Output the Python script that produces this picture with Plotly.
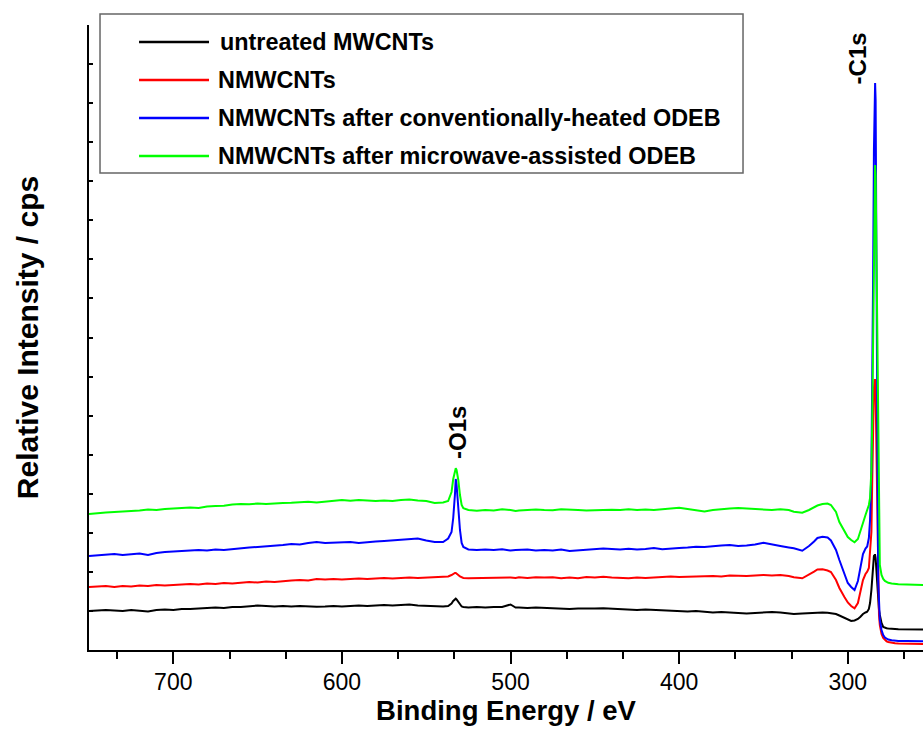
import plotly.graph_objects as go

# Binding energy grid (eV), shared by all four survey spectra
energy = [
    750, 745, 740, 735, 730, 725, 720, 715, 710, 705,
    700, 695, 690, 685, 680, 675, 670, 665, 660, 655,
    650, 645, 640, 635, 630, 625, 620, 615, 610, 605,
    600, 595, 590, 585, 580, 575, 570, 565, 560, 555,
    550, 545,
    # O1s region
    540, 537, 535, 534, 533, 532.5, 532, 531, 530, 529, 528, 525,
    520, 515, 510, 505, 500, 497,
    495, 490, 485, 480, 475, 470, 465, 460, 455, 450,
    445, 440, 435, 430, 425, 420, 415, 410, 405, 400,
    395, 390, 385, 380, 375, 370, 365, 360, 355, 350,
    345, 340,
    # C1s region
    335, 332, 327, 323, 320, 318, 315, 312, 310, 307,
    305, 302, 300, 298, 296, 294, 292.5, 291, 289.5, 288.5,
    287.5, 286.8, 286, 285.5, 285, 284.5, 284, 283.8, 283.5, 283,
    282.5, 282, 281.5, 281, 280, 279, 278, 277, 276, 274,
    272, 270, 265, 260, 255,
]

# Intensities (cps)
untreated = [
    3900, 3950, 4000, 3950, 3900, 4000, 3900, 3850, 4000, 4050,
    4000, 4100, 4100, 4150, 4200, 4250, 4200, 4300, 4300, 4400,
    4450, 4400, 4350, 4400, 4350, 4400, 4350, 4330, 4350, 4400,
    4350, 4400, 4450, 4400, 4450, 4500, 4450, 4500, 4550, 4450,
    4400, 4350,
    4350, 4400, 4650, 4900, 5100, 5130, 5050, 4800, 4500, 4350, 4300, 4250,
    4300, 4250, 4300, 4300, 4550, 4250,
    4250, 4200, 4250, 4200, 4150, 4150, 4100, 4150, 4130, 4150,
    4170, 4130, 4100, 4050, 4000, 4050, 4000, 3950, 3900, 3850,
    3850, 3900, 3800, 3750, 3800, 3750, 3670, 3650, 3700, 3750,
    3800, 3750,
    3700, 3600, 3650, 3700, 3730, 3700, 3750, 3730, 3700, 3600,
    3450, 3200, 3000, 2900, 2950, 3100, 3330, 3600, 3750, 3830,
    4100, 4700, 6000, 7500, 8800, 9400, 9500, 9500, 9200, 8000,
    6200, 4700, 4000, 3500, 2700, 2300, 2200, 2170, 2150, 2100,
    2100, 2080, 2070, 2050, 2050,
]

nmwcnts = [
    6300, 6350, 6400, 6300, 6400, 6350, 6450, 6400, 6500, 6450,
    6500, 6550, 6600, 6550, 6650, 6600, 6700, 6650, 6750, 6800,
    6750, 6850, 6800, 6900, 6950, 7000, 6950, 7100, 7050, 7100,
    7050, 7100, 7150, 7100, 7150, 7200, 7150, 7200, 7250, 7200,
    7250, 7300,
    7300, 7350, 7500, 7630, 7700, 7700, 7650, 7500, 7350, 7250, 7200, 7170,
    7200, 7230, 7200, 7250, 7250, 7200,
    7270, 7200, 7270, 7250, 7270, 7170, 7250, 7170, 7300, 7250,
    7330, 7250, 7200, 7170, 7250, 7200, 7250, 7300, 7350, 7300,
    7330, 7300, 7350, 7400, 7350, 7450, 7430, 7400, 7450, 7500,
    7450, 7500,
    7400, 7270, 7170, 7500, 7830, 8050, 8070, 7950, 7800, 7000,
    6200, 5300, 4750, 4400, 4170, 4700, 5800, 7000, 7600, 7830,
    8200, 9500, 11800, 17000, 23000, 26200, 27000, 27000, 25500, 19000,
    11000, 5500, 3500, 2500, 1600, 1200, 1000, 870, 800, 720,
    670, 650, 620, 600, 600,
]

conv_heated = [
    9400, 9450, 9550, 9600, 9500, 9600, 9650, 9500, 9700, 9800,
    9850, 9900, 9950, 10000, 9950, 10050, 10000, 10100, 10150, 10250,
    10300, 10350, 10450, 10500, 10600, 10550, 10700, 10800, 10700, 10750,
    10730, 10800, 10700, 10800, 10850, 10900, 10950, 11000, 11100, 11150,
    10950, 10800,
    10800, 11150, 11800, 13200, 15500, 17100, 16500, 14000, 12000, 10700, 10300, 10050,
    10000, 10050, 10000, 10070, 9950, 10000,
    10000, 10050, 9950, 10000, 9950, 10050, 9900, 9950, 10000, 10100,
    10150, 10100, 10050, 10130, 10050, 10100, 10200, 10070, 10100, 10200,
    10250, 10330, 10300, 10400, 10450, 10500, 10400, 10450, 10550, 10730,
    10600, 10400,
    10250, 10170, 9930, 10400, 10850, 11200, 11330, 11250, 10950, 10000,
    9000, 7500, 6700, 6300, 6000, 6900, 8200, 9600, 10150, 10350,
    11200, 13000, 18000, 25000, 37000, 50000, 56200, 56700, 55000, 43000,
    23000, 7000, 4000, 3000, 2000, 1500, 1250, 1150, 1050, 970,
    920, 900, 900, 880, 870,
]

microwave = [
    13600, 13700, 13750, 13800, 13850, 13830, 13950, 14050, 14000, 14100,
    14150, 14170, 14250, 14200, 14350, 14400, 14430, 14550, 14600, 14570,
    14650, 14600, 14670, 14700, 14730, 14800, 14830, 14750, 14850, 14950,
    15000, 14930, 15000, 14950, 14900, 14950, 14900, 15000, 15050, 14950,
    14900, 14700,
    14750, 14900, 15800, 17100, 18000, 18170, 18000, 17000, 15500, 14500, 14170, 14000,
    13930, 14000, 13950, 14070, 14000, 13900,
    13950, 14000, 14050, 14000, 13970, 14070, 14000, 14000, 13950, 14000,
    14000, 14030, 14000, 14070, 14000, 14050, 14000, 14070, 14130, 14230,
    14100, 13950, 13850, 14000, 14100, 14150, 14200, 14150, 14070, 14050,
    14000, 14070,
    14000, 13830, 13730, 14000, 14300, 14450, 14600, 14650, 14500, 13800,
    12800, 11800, 11300, 11000, 10770, 11100, 11800, 12700, 13500, 14000,
    14500, 15200, 18000, 23000, 32000, 42000, 47500, 48500, 47500, 40000,
    30000, 19000, 11000, 8500, 7500, 7100, 6900, 6800, 6720, 6650,
    6600, 6570, 6550, 6530, 6500,
]

series_names = [
    "untreated MWCNTs",
    "NMWCNTs",
    "NMWCNTs after conventionally-heated ODEB",
    "NMWCNTs after microwave-assisted ODEB",
]
series_values = [untreated, nmwcnts, conv_heated, microwave]
series_colors = ["#000000", "#ff0000", "#0000ff", "#00ff00"]

x_major = [700, 600, 500, 400, 300]
x_minor = [733.33, 666.67, 633.33, 566.67, 533.33, 466.67, 433.33,
           366.67, 333.33, 266.67]
y_top = 62500
y_step = y_top / 16

peak_labels = [("-C1s", 294, 59150), ("-O1s", 531.5, 21750)]

FONT = "Arial, Liberation Sans, sans-serif"

fig = go.Figure()
for name, vals, col in zip(series_names, series_values, series_colors):
    fig.add_trace(go.Scatter(
        x=energy, y=vals, mode="lines", name=name,
        line=dict(color=col, width=2), showlegend=False,
    ))

# Legend drawn as a framed key in the upper-left corner
legend_rows = [0.9728, 0.912, 0.8512, 0.7904]
shapes = [dict(type="rect", xref="paper", yref="paper",
               x0=0.0132, x1=0.7842, y0=0.7632, y1=1.0176,
               line=dict(color="#666666", width=1.5), fillcolor="white",
               layer="above")]
annotations = []
for i, (name, col) in enumerate(zip(series_names, series_colors)):
    ry = legend_rows[i]
    shapes.append(dict(type="line", xref="paper", yref="paper",
                       x0=0.0600, x1=0.1439, y0=ry, y1=ry,
                       line=dict(color=col, width=2.5), layer="above"))
    annotations.append(dict(xref="paper", yref="paper",
                            x=0.1547 if i == 0 else 0.1523, y=ry,
                            xanchor="left", yanchor="middle", showarrow=False,
                            text="<b>" + name + "</b>",
                            font=dict(family=FONT, size=23.4, color="black")))

for text, ex, ey in peak_labels:
    annotations.append(dict(x=ex, y=ey, xref="x", yref="y", text="<b>" + text + "</b>",
                            textangle=-90, showarrow=False,
                            xanchor="center", yanchor="middle",
                            font=dict(family=FONT, size=24, color="black")))

fig.update_layout(
    width=923, height=745,
    margin=dict(l=89, r=0, t=25, b=95, autoexpand=False),
    paper_bgcolor="white", plot_bgcolor="white",
    shapes=shapes, annotations=annotations,
    font=dict(family=FONT, color="black"),
)

fig.update_xaxes(
    range=[750, 255.4], showgrid=False, zeroline=False,
    showline=True, linecolor="black", linewidth=2, mirror=False,
    ticks="outside", ticklen=12, tickwidth=2, tickcolor="black",
    tickvals=x_major, ticktext=[str(v) for v in x_major],
    tickfont=dict(family=FONT, size=23, color="black"),
    ticklabelstandoff=-2,
    minor=dict(tickvals=x_minor, ticks="outside", ticklen=7, tickwidth=2,
               tickcolor="black"),
    title=dict(text="<b>Binding Energy / eV</b>", standoff=0,
               font=dict(family=FONT, size=27.5, color="black")),
    automargin=False,
)
fig.update_yaxes(
    range=[0, y_top], showgrid=False, zeroline=False,
    showline=True, linecolor="black", linewidth=2, mirror=False,
    ticks="inside", ticklen=4, tickwidth=1.5, tickcolor="black",
    tick0=0, dtick=y_step, showticklabels=False,
    title=dict(text="<b>Relative Intensity / cps</b>", standoff=40,
               font=dict(family=FONT, size=30, color="black")),
    automargin=False,
)

fig.write_html("out.html")
